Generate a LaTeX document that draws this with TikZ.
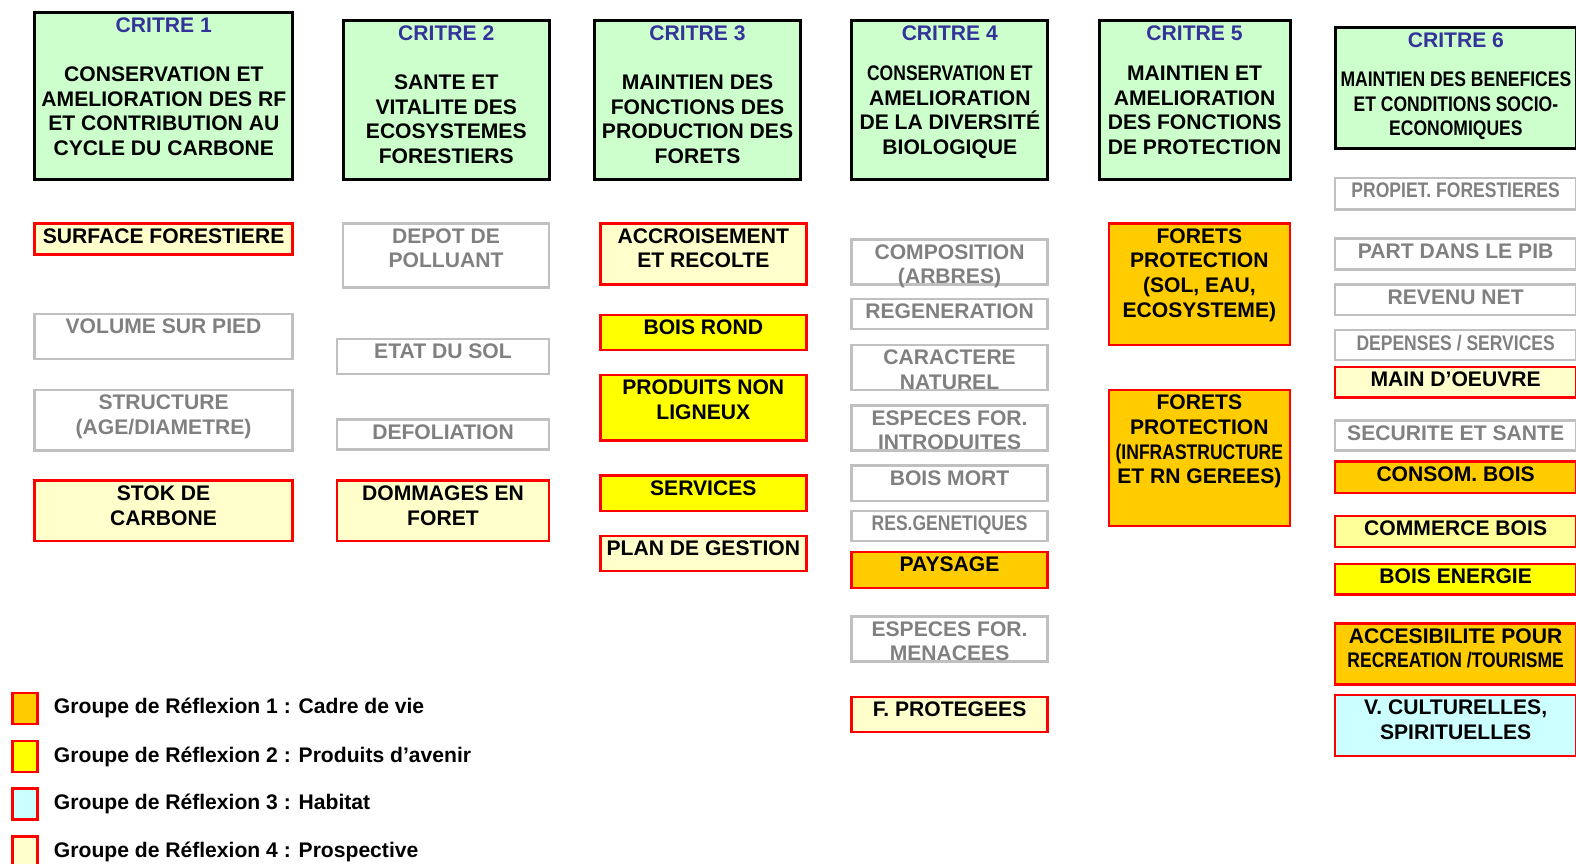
\documentclass[tikz,border=0pt]{standalone}
\usepackage{fontspec}
\setmainfont{Liberation Sans}
\newfontfamily\etroit{Liberation Sans}[FakeStretch=0.83]
\usetikzlibrary{positioning}
\hyphenpenalty=10000
\exhyphenpenalty=10000

\definecolor{vert}{HTML}{CCFFCC}
\definecolor{bleu}{HTML}{333399}
\definecolor{grisbord}{HTML}{C0C0C0}
\definecolor{gristexte}{HTML}{808080}
\definecolor{orangegr}{HTML}{FFCC00}
\definecolor{jaunegr}{HTML}{FFFF00}
\definecolor{palegr}{HTML}{FFFFCC}
\definecolor{pale2gr}{HTML}{FFFF99}
\definecolor{cyangr}{HTML}{CCFFFF}

\tikzset{cadre/.style={anchor=north west, inner sep=0pt, line width=2.5pt},
critere/.style={cadre, draw=black, fill=vert, line width=3pt},
gris/.style={cadre, draw=grisbord, text=gristexte},
pale/.style={cadre, draw=red, fill=palegr},
pale2/.style={cadre, draw=red, fill=pale2gr},
jaune/.style={cadre, draw=red, fill=jaunegr},
orange/.style={cadre, draw=red, fill=orangegr},
cyan/.style={cadre, draw=red, fill=cyangr},
carre/.style={anchor=north west, inner sep=0pt, draw=red, line width=2.5pt,
  minimum width=25pt, minimum height=31pt}}

% boite: style, nom, coin, largeur, hauteur, texte
\newcommand{\boite}[6]{\node[#1] (#2) at (#3)
  {\parbox[t][#5pt][t]{#4pt}{\centering\vspace*{5pt}#6}};}

\begin{document}
\begin{tikzpicture}[x=1pt, y=-1pt,
  every node/.style={font=\bfseries\fontsize{21}{24.5}\selectfont}]
        \useasboundingbox (0,0) rectangle (1568,859);

        % criteres
        \boite{critere}{c1}{33,11}{257}{166}{{\color{bleu}CRITRE 1}\\[24.5pt]CONSERVATION ET\\AMELIORATION DES RF\\ET CONTRIBUTION AU\\CYCLE DU CARBONE}
        \boite{critere}{c2}{340,19}{205}{158}{{\color{bleu}CRITRE 2}\\[24.5pt]SANTE ET\\VITALITE DES\\ECOSYSTEMES\\FORESTIERS}
        \boite{critere}{c3}{590,19}{205}{158}{{\color{bleu}CRITRE 3}\\[24.5pt]MAINTIEN DES\\FONCTIONS DES\\PRODUCTION DES\\FORETS}
        \boite{critere}{c4}{846,19}{195}{158}{{\color{bleu}CRITRE 4}\\[15.5pt]{\etroit CONSERVATION ET}\\AMELIORATION\\DE LA DIVERSITÉ\\BIOLOGIQUE}
        \boite{critere}{c5}{1092,19}{190}{158}{{\color{bleu}CRITRE 5}\\[15.5pt]MAINTIEN ET\\AMELIORATION\\DES FONCTIONS\\DE PROTECTION}
        \boite{critere}{c6}{1327,26}{240}{120}{{\color{bleu}CRITRE 6}\\[14.5pt]{\etroit MAINTIEN DES BENEFICES\\ET CONDITIONS SOCIO-\\ECONOMIQUES}}

        % critere 1
        \boite{pale}{surf}{33,221}{257}{31}{SURFACE FORESTIERE}
        \boite{gris}{vol}{33,311}{257}{45}{VOLUME SUR PIED}
        \boite{gris}{struc}{33,387}{257}{60}{STRUCTURE\\(AGE/DIAMETRE)}
        \boite{pale}{stok}{33,477}{257}{60}{STOK DE\\CARBONE}

        % critere 2
        \boite{gris}{depot}{340,221}{205}{64}{DEPOT DE\\POLLUANT}
        \boite{gris}{etat}{334,336}{211}{35}{ETAT DU SOL}
        \boite{gris}{defol}{334,416}{211}{30}{DEFOLIATION}
        \boite{pale}{domm}{334,477}{211}{60}{DOMMAGES EN\\FORET}

        % critere 3
        \boite{pale}{accr}{596,221}{205}{61}{ACCROISEMENT\\ET RECOLTE}
        \boite{jaune}{brond}{596,312}{205}{35}{BOIS ROND}
        \boite{jaune}{pnl}{596,372}{205}{65}{PRODUITS NON\\LIGNEUX}
        \boite{jaune}{serv}{596,472}{205}{35}{SERVICES}
        \boite{pale}{plan}{596,532}{205}{35}{PLAN DE GESTION}

        % critere 4
        \boite{gris}{compo}{846,237}{195}{45}{COMPOSITION\\(ARBRES)}
        \boite{gris}{regen}{846,296}{195}{30}{REGENERATION}
        \boite{gris}{carac}{846,342}{195}{45}{CARACTERE\\NATUREL}
        \boite{gris}{intro}{846,402}{195}{45}{ESPECES FOR.\\INTRODUITES}
        \boite{gris}{mort}{846,462}{195}{35}{BOIS MORT}
        \boite{gris}{resgen}{846,507}{195}{30}{\etroit RES.GENETIQUES}
        \boite{orange}{pays}{846,548}{195}{36}{PAYSAGE}
        \boite{gris}{menac}{846,612}{195}{45}{ESPECES FOR.\\MENACEES}
        \boite{pale}{proteg}{846,692}{195}{35}{F. PROTEGEES}

        % critere 5
        \boite{orange}{fp1}{1102,221}{180}{121}{FORETS\\PROTECTION\\(SOL, EAU,\\ECOSYSTEME)}
        \boite{orange}{fp2}{1102,387}{180}{135}{FORETS\\PROTECTION\\{\etroit (INFRASTRUCTURE}\\ET RN GEREES)}

        % critere 6
        \boite{gris}{propiet}{1327,176}{240}{31}{\etroit PROPIET. FORESTIERES}
        \boite{gris}{pib}{1327,236}{240}{31}{PART DANS LE PIB}
        \boite{gris}{revenu}{1327,282}{240}{30}{REVENU NET}
        \boite{gris}{depenses}{1327,327}{240}{30}{\etroit DEPENSES / SERVICES}
        \boite{pale}{main}{1327,364}{240}{30}{MAIN D’OEUVRE}
        \boite{gris}{secur}{1327,417}{240}{30}{SECURITE ET SANTE}
        \boite{orange}{consom}{1327,458}{240}{31}{CONSOM. BOIS}
        \boite{pale2}{commerce}{1327,512}{240}{31}{COMMERCE BOIS}
        \boite{jaune}{boisen}{1327,560}{240}{30}{BOIS ENERGIE}
        \boite{orange}{acces}{1327,619}{240}{61}{ACCESIBILITE POUR\\{\etroit RECREATION /TOURISME}}
        \boite{cyan}{vcult}{1327,690}{240}{61}{V. CULTURELLES,\\SPIRITUELLES}

        % legende
        \node[carre, fill=orangegr] (leg1) at (11,688) {};
        \node[carre, fill=jaunegr] (leg2) at (11,736) {};
        \node[carre, fill=cyangr] (leg3) at (11,783) {};
        \node[carre, fill=palegr] (leg4) at (11,831) {};
        \node[right=15pt of leg1, inner sep=0pt] (txt1) {Groupe de Réflexion 1 : Cadre de vie};
        \node[right=15pt of leg2, inner sep=0pt] (txt2) {Groupe de Réflexion 2 : Produits d’avenir};
        \node[right=15pt of leg3, inner sep=0pt] (txt3) {Groupe de Réflexion 3 : Habitat};
        \node[right=15pt of leg4, inner sep=0pt] (txt4) {Groupe de Réflexion 4 : Prospective};
\end{tikzpicture}
\end{document}
